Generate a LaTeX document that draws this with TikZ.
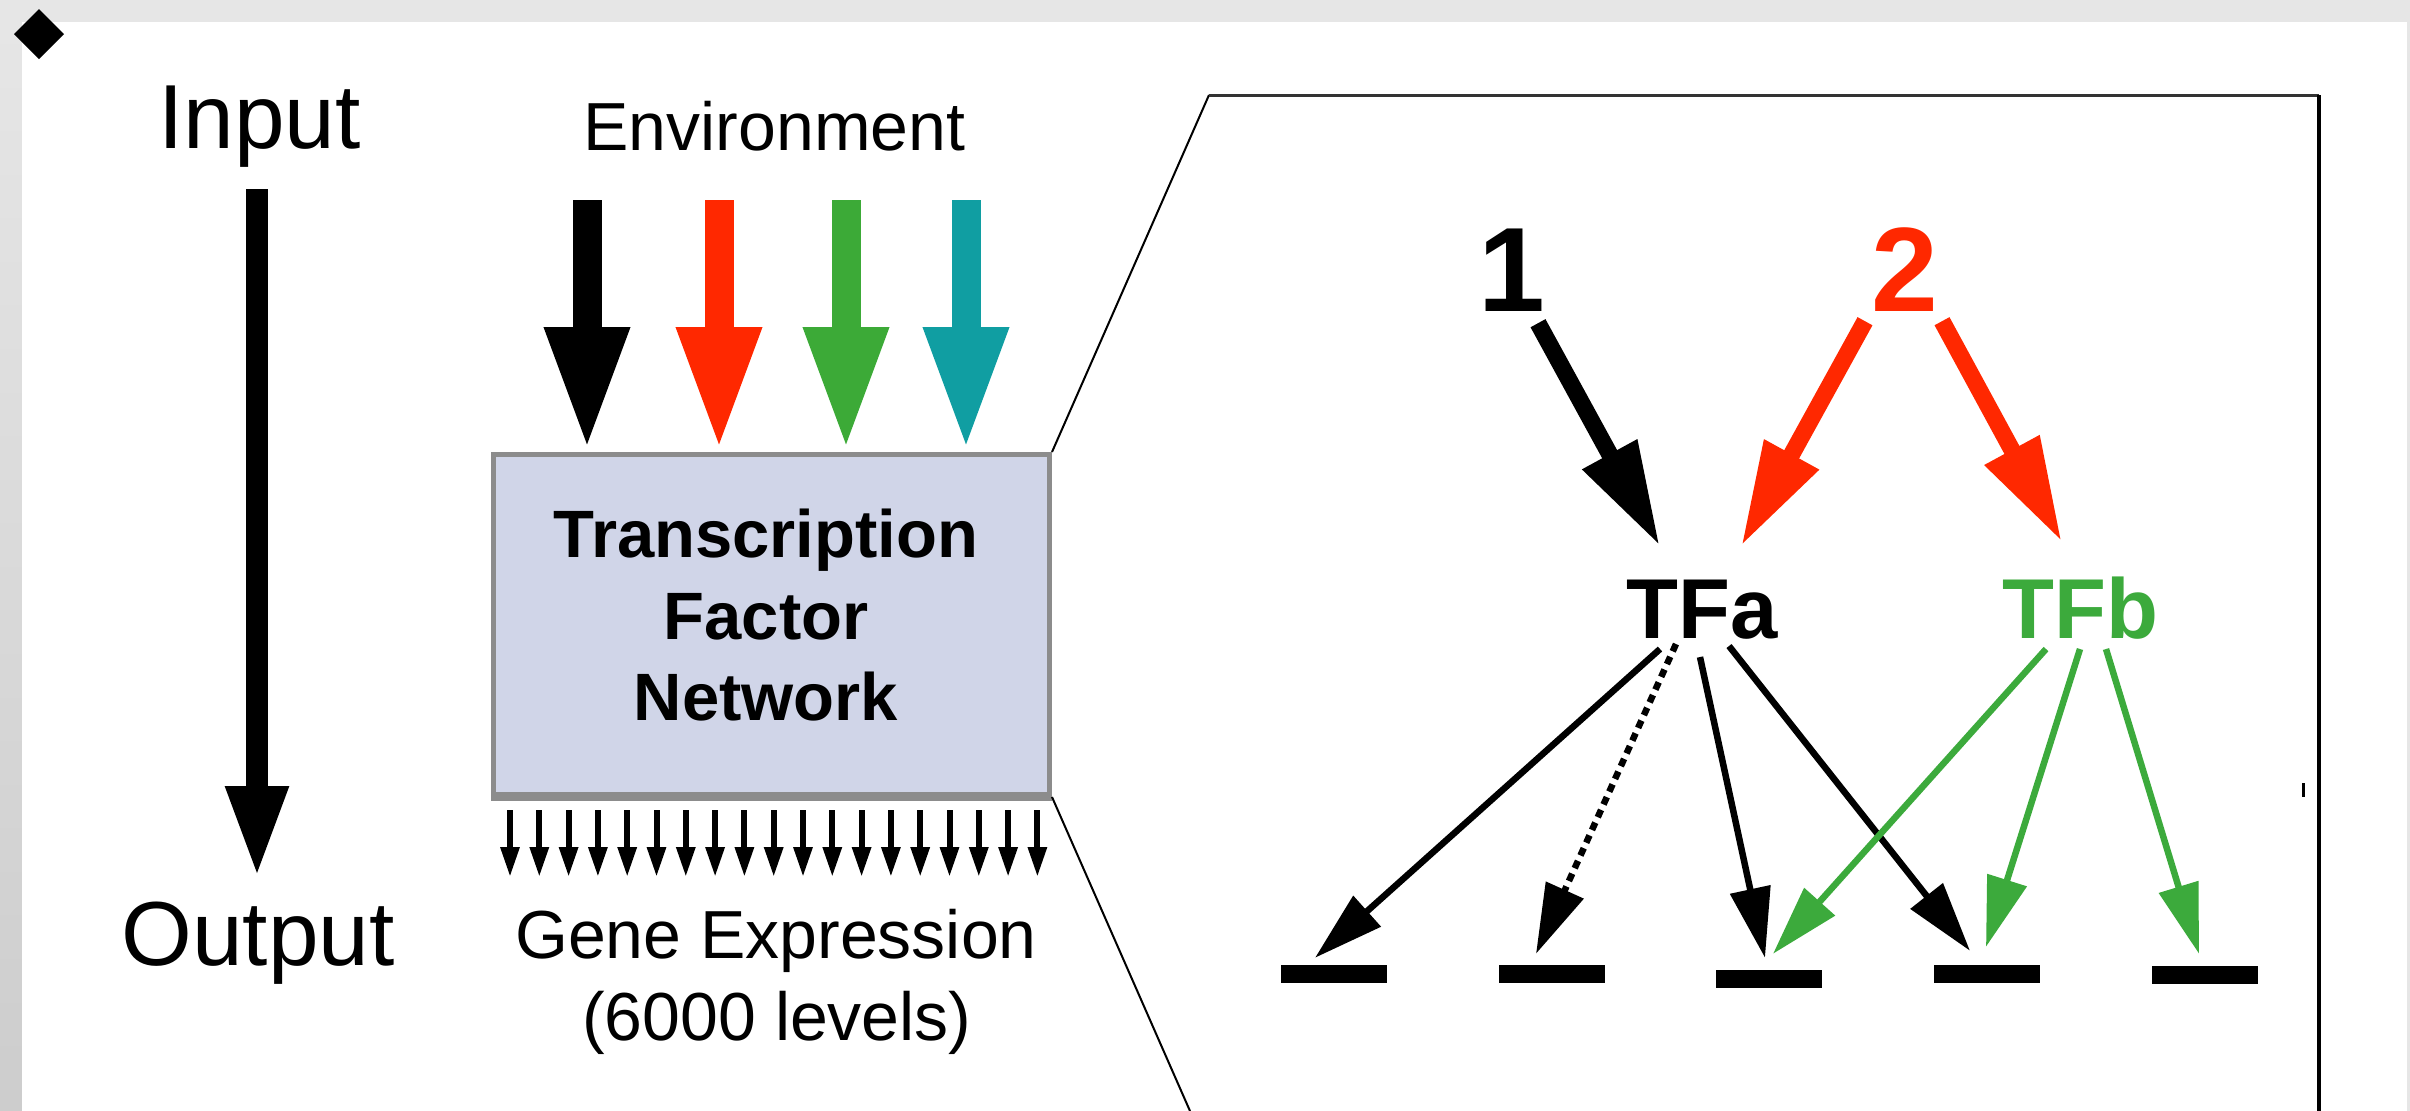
\documentclass[tikz,border=0pt]{standalone}
\usepackage{fontspec}
\setmainfont{Liberation Sans}
\usetikzlibrary{arrows.meta,calc}

\definecolor{bandgrey}{RGB}{230,230,230}
\definecolor{banddark}{RGB}{205,205,205}
\definecolor{boxfill}{RGB}{208,213,232}
\definecolor{boxline}{RGB}{140,140,140}
\definecolor{envred}{RGB}{255,40,0}
\definecolor{envgreen}{RGB}{60,170,55}
\definecolor{envteal}{RGB}{16,158,162}
\definecolor{tfgreen}{RGB}{60,170,60}

\tikzset{
  lbl/.style={inner sep=0pt, anchor=base, font=\fontsize{68}{80}\selectfont},
  biglbl/.style={inner sep=0pt, anchor=base, font=\fontsize{91}{100}\selectfont},
  boxlbl/.style={inner sep=0pt, anchor=base, font=\bfseries\fontsize{67}{80}\selectfont},
  tflbl/.style={inner sep=0pt, anchor=base, font=\bfseries\fontsize{85}{95}\selectfont},
  numlbl/.style={inner sep=0pt, anchor=base, font=\bfseries\fontsize{120}{130}\selectfont},
  envarrow/.style={line width=29pt, -{Triangle[length=125pt,width=77pt]}},
  mainarrow/.style={line width=22pt, -{Triangle[length=93pt,width=57pt]}},
  genearrow/.style={line width=6pt, -{Triangle[length=30pt,width=18pt]}},
  fatarrow/.style={line width=17pt, -{Triangle[length=105pt,width=58pt]}},
  thinarrow/.style={line width=6.5pt, -{Triangle[length=70pt,width=40pt]}},
  genebar/.style={fill=black, inner sep=0pt, minimum width=106pt, minimum height=18pt},
  zoomline/.style={line width=2pt, black}
}

\begin{document}
\begin{tikzpicture}[x=1pt, y=-1pt]
  \useasboundingbox (0,0) rectangle (2410,1111);

  % page background with grey frame
  \fill[bandgrey] (0,0) rectangle (2410,22);
  \shade[top color=bandgrey, bottom color=banddark] (0,22) rectangle (22,1111);
  \fill[bandgrey] (2407,22) rectangle (2410,1111);
  \fill[white] (22,22) rectangle (2407,1111);

  % bullet
  \fill[black] (39,9) -- (64,34) -- (39,59) -- (14,34) -- cycle;

  % input / output axis
  \node[biglbl] (input) at (259.5,148) {Input};
  \node[biglbl] (output) at (258,965) {Output};
  \coordinate (inA) at (257,189);
  \coordinate (inB) at (257,879);
  \draw[mainarrow] (inA) -- (inB);

  % transcription factor network box
  \node[draw=boxline, line width=5pt, fill=boxfill, minimum width=556pt,
        minimum height=340pt, inner sep=0pt] (box) at (771.5,624.5) {};
  \draw[boxline, line width=4pt] ([yshift=-2pt]box.south west) -- ([yshift=-2pt]box.south east);
  \node[boxlbl] (bt1) at (766,557) {Transcription};
  \node[boxlbl] (bt2) at (766,639) {Factor};
  \node[boxlbl] (bt3) at (766,720) {Network};

  % environment signals
  \node[lbl] (env) at (774.5,150) {Environment};
  \coordinate (e1) at (587,200);
  \coordinate (e2) at (719,200);
  \coordinate (e3) at (846,200);
  \coordinate (e4) at (966,200);
  \draw[envarrow, black]     (e1) -- (e1 |- box.north);
  \draw[envarrow, envred]    (e2) -- (e2 |- box.north);
  \draw[envarrow, envgreen]  (e3) -- (e3 |- box.north);
  \draw[envarrow, envteal]   (e4) -- (e4 |- box.north);

  % gene expression outputs
  \foreach \i in {0,...,18} {
    \draw[genearrow] ({510+29.3*\i},810) -- ({510+29.3*\i},877);
  }
  \node[lbl] (gexp) at (776,958) {Gene Expression};
  \node[lbl] (glev) at (777,1040) {(6000 levels)};

  % magnified panel outline
  \coordinate (pTL) at (1209,95);
  \coordinate (pTR) at (2319,95);
  \coordinate (pBR) at (2319,1111);
  \coordinate (pBL) at (1190,1111);
  \draw[zoomline] (box.north east) -- (pTL);
  \draw[line width=3pt, black!80] (pTL) -- (pTR);
  \draw[line width=4pt, black] (pTR) -- (pBR);
  \draw[zoomline] (box.south east) -- (pBL);
  \draw[line width=3pt] (2303,783) -- (2303,797);

  % signals and transcription factors
  \node[numlbl] (one) at (1512,311) {1};
  \node[numlbl, text=envred] (two) at (1905,311) {2};
  \node[tflbl] (tfa) at (1702,638) {TFa};
  \node[tflbl, text=tfgreen] (tfb) at (2080,638) {TFb};

  \draw[fatarrow, black]  ([xshift=26pt,yshift=-12pt]one.south) -- ([xshift=-42pt,yshift=33pt]tfa.north);
  \draw[fatarrow, envred] ([xshift=-40pt,yshift=-10pt]two.south) -- ([xshift=39pt,yshift=33pt]tfa.north);
  \draw[fatarrow, envred] ([xshift=37pt,yshift=-10pt]two.south) -- ([xshift=-18pt,yshift=34pt]tfb.north);

  % target genes
  \node[genebar] (g1) at (1334,974) {};
  \node[genebar] (g2) at (1552,974) {};
  \node[genebar] (g3) at (1769,979) {};
  \node[genebar] (g4) at (1987,974) {};
  \node[genebar] (g5) at (2205,975) {};

  % regulation by TFa
  \draw[thinarrow] ([xshift=-42pt,yshift=-10pt]tfa.south) -- ([xshift=-19pt,yshift=7pt]g1.north);
  \draw[thinarrow, dash pattern=on 8pt off 6pt] ([xshift=-26pt,yshift=-5pt]tfa.south) -- ([xshift=-16pt,yshift=11pt]g2.north);
  \draw[thinarrow] ([xshift=-2pt,yshift=-18pt]tfa.south) -- ([xshift=-4pt,yshift=12pt]g3.north);
  \draw[thinarrow] ([xshift=27pt,yshift=-7pt]tfa.south) -- ([xshift=-17pt,yshift=14pt]g4.north);

  % regulation by TFb
  \draw[thinarrow, tfgreen] ([xshift=-34pt,yshift=-10pt]tfb.south) -- ([xshift=4pt,yshift=16pt]g3.north);
  \draw[thinarrow, tfgreen] ([xshift=0pt,yshift=-10pt]tfb.south) -- ([xshift=-1pt,yshift=18pt]g4.north);
  \draw[thinarrow, tfgreen] ([xshift=26pt,yshift=-10pt]tfb.south) -- ([xshift=-6pt,yshift=12pt]g5.north);
\end{tikzpicture}
\end{document}
